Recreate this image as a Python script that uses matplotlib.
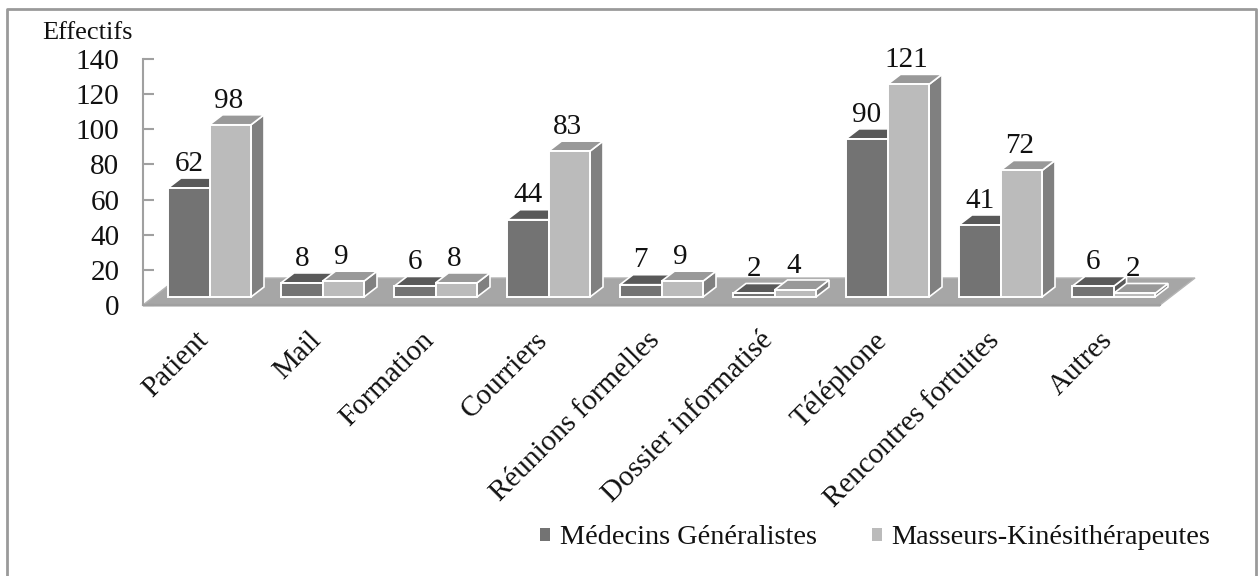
import matplotlib
matplotlib.use("Agg")
import matplotlib.pyplot as plt
from matplotlib.patches import Patch
from matplotlib.lines import Line2D

plt.rcParams['font.family'] = ['Liberation Serif', 'DejaVu Serif']

categories = ["Patient", "Mail", "Formation", "Courriers", "Réunions formelles",
              "Dossier informatisé", "Téléphone", "Rencontres fortuites", "Autres"]
medecins = [62, 8, 6, 44, 7, 2, 90, 41, 6]
masseurs = [98, 9, 8, 83, 9, 4, 121, 72, 2]
series_names = ["Médecins Généralistes", "Masseurs-Kinésithérapeutes"]
yticks = [0, 20, 40, 60, 80, 100, 120, 140]

W, H = 1258, 576
fig = plt.figure(figsize=(W / 100, H / 100), dpi=100, facecolor="white")
ax = fig.add_axes([143 / W, 1 - 305 / H, (1160 - 143) / W, (305 - 59) / H])
ax.set_xlim(-0.5, 8.5)
ax.set_ylim(0, 140)
ax.patch.set_alpha(0)

# frame: open at the bottom, as in the reference
fig.add_artist(Line2D([7 / W, 7 / W, 1256 / W, 1256 / W], [0, 1 - 9 / H, 1 - 9 / H, 0],
                      transform=fig.transFigure, color="#9a9a9a", lw=2.0))

# oblique depth, in axis units
DX = 13 / 113
DY = 10 * 140 / 246
BAR = 41.5 / 113
BASE = 8 * 140 / 246
SHIFT = 10 / 113
FX = 35 / 113
FY = 27 * 140 / 246
THICK = 3 * 140 / 246

x0, x1 = ax.get_xlim()
ax.fill([x0, x1, x1 + FX, x0 + FX], [0, 0, FY, FY], color="#a6a6a6", ec="#b4b4b4", lw=1, clip_on=False, zorder=1)
ax.fill([x0, x1, x1, x0], [0, 0, -THICK * 0.6, -THICK * 0.6], color="#cdcdcd", lw=0, clip_on=False, zorder=1)


def box(left, val, front, top, side, z):
    right = left + BAR
    y0, y1 = BASE, BASE + val
    ax.fill([right, right + DX, right + DX, right], [y0, y0 + DY, y1 + DY, y1],
            fc=side, ec="white", lw=1.2, clip_on=False, zorder=z)
    ax.fill([left, right, right + DX, left + DX], [y1, y1, y1 + DY, y1 + DY],
            fc=top, ec="white", lw=1.2, clip_on=False, zorder=z)
    ax.bar(left, val, BAR, bottom=y0, align="edge", fc=front, ec="white", lw=1.4, clip_on=False, zorder=z)


for i, (a, b) in enumerate(zip(medecins, masseurs)):
    c = i + SHIFT
    z = 3 + i * 2
    box(c - BAR, a, "#737373", "#595959", "#595959", z)
    box(c, b, "#bbbbbb", "#999999", "#808080", z + 1)
    ax.text(c - BAR / 2, BASE + a + DY + 0.7, str(a), ha="center", va="bottom", fontsize=21, color="#111111", zorder=40)
    ax.text(c + BAR / 2 - 0.015, BASE + b + DY + 0.7, str(b), ha="center", va="bottom", fontsize=21, color="#111111", zorder=40)

for s in ["top", "right", "bottom"]:
    ax.spines[s].set_visible(False)
ax.spines["left"].set_color("#a0a0a0")
ax.spines["left"].set_linewidth(1.5)
ax.set_yticks(yticks)
ax.tick_params(axis="y", direction="in", length=8, width=1.5, color="#a0a0a0", labelsize=21,
               labelcolor="#111111", pad=17)
ax.plot([x0, x1], [0, 0], color="#a0a0a0", lw=1.5, clip_on=False, zorder=2)

ax.set_xticks([i - 0.04 for i in range(len(categories))])
ax.set_xticklabels(categories, rotation=45, ha="right", va="top", rotation_mode="anchor",
                   fontsize=21, color="#111111")
ax.tick_params(axis="x", length=0, pad=16)

ax.text(-0.0098, 1.106, "Effectifs", transform=ax.transAxes, ha="right", va="center", fontsize=19, color="#111111")

fig.legend(handles=[Patch(fc="#737373", ec="none"), Patch(fc="#bbbbbb", ec="none")], labels=series_names,
           ncol=2, loc="center right", bbox_to_anchor=(1236 / W, 1 - 538 / H), frameon=False, fontsize=20.3,
           handlelength=0.36, handleheight=0.36, handletextpad=0.35, columnspacing=1.95, labelcolor="#111111")

fig.savefig("out.png", dpi=100)
